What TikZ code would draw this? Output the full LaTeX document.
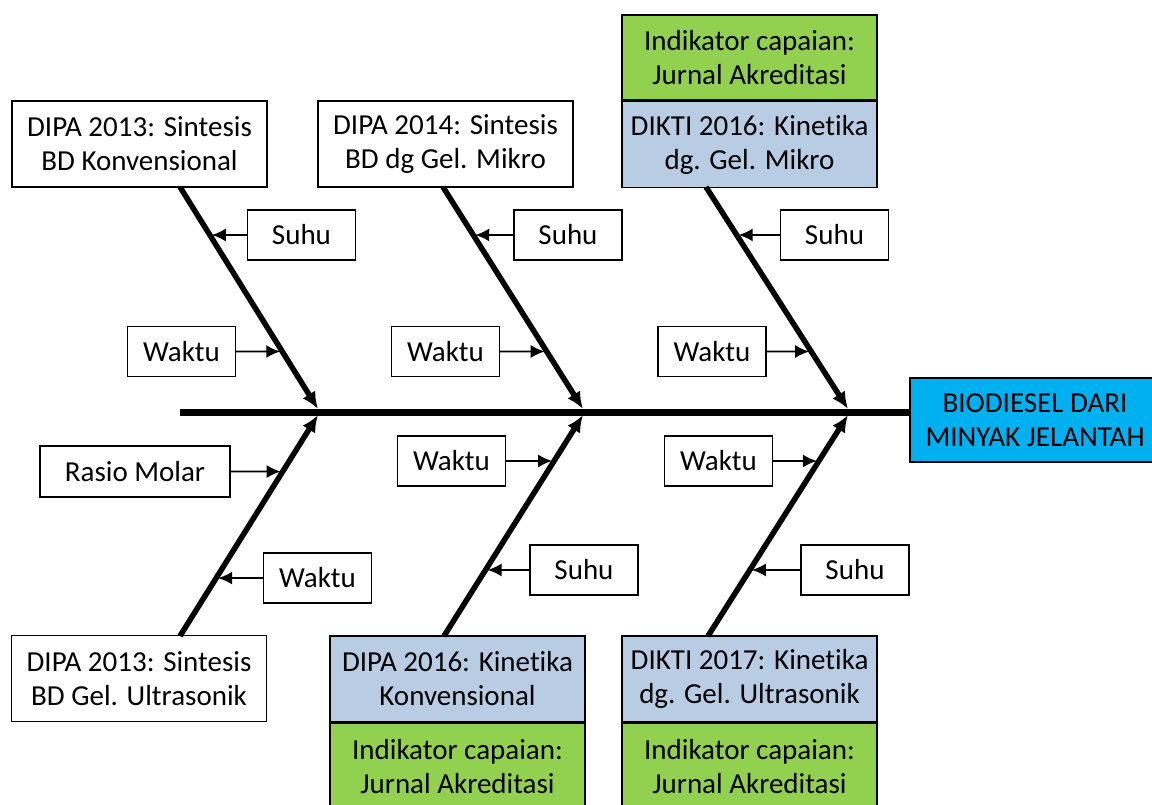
\documentclass[tikz,border=0pt]{standalone}
\usepackage{fontspec}
\setmainfont{Carlito}[RawFeature={-liga;-clig;-calt;-dlig}]
\usetikzlibrary{arrows.meta,calc}
\definecolor{kotak}{HTML}{B8CCE4}
\definecolor{hijau}{HTML}{92D050}
\definecolor{biru}{HTML}{00B0F0}
\tikzset{%
  proj/.style  = {shape=rectangle, draw, line width=1.6pt, align=center,%
                  fill=white, minimum width=255pt, minimum height=86pt,%
                  inner sep=0pt},%
  dikti/.style = {proj, fill=kotak},%
  goal/.style  = {proj, fill=hijau, minimum height=85pt},%
  head/.style  = {proj, fill=biru, minimum width=250pt, minimum height=84pt},%
  cause/.style = {shape=rectangle, draw, line width=1.4pt, fill=white,%
                  minimum width=108pt, minimum height=50pt, inner sep=0pt},%
  bone/.style  = {line width=5.5pt, -{Latex[length=17pt,width=15pt]}},%
  twig/.style  = {line width=1.8pt, shorten >=2pt,%
                  -{Latex[length=14pt,width=13pt]}}%
}

\begin{document}
\begin{tikzpicture}
[x=1pt,y=-1pt,every node/.style={font=\fontsize{29}{34}\selectfont}]
	\useasboundingbox (0,0) rectangle (1152,804);
	% head and spine
	\node[head] (H) at (1035,420) {BIODIESEL DARI\\MINYAK JELANTAH};
	\coordinate (S) at (180,412);
	\draw[line width=7pt] (S) -- (H.west |- S);
	% upper projects
	\node[proj] (P1) at (139.5,144) {DIPA 2013: Sintesis\\BD Konvensional};
	\node[proj] (P2) at (445.5,144) {DIPA 2014: Sintesis\\BD dg Gel. Mikro};
	\node[dikti] (P3) at (749.5,144.5) {DIKTI 2016: Kinetika\\dg. Gel. Mikro};
	\node[goal,anchor=south] (G3) at (P3.north) {Indikator capaian:\\Jurnal Akreditasi};
	% lower projects
	\node[proj] (P4) at (139,678.5) {DIPA 2013: Sintesis\\BD Gel. Ultrasonik};
	\node[dikti] (P5) at (457.5,679) {DIPA 2016: Kinetika\\Konvensional};
	\node[goal,anchor=north] (G5) at (P5.south) {Indikator capaian:\\Jurnal Akreditasi};
	\node[dikti] (P6) at (749.5,679) {DIKTI 2017: Kinetika\\dg. Gel. Ultrasonik};
	\node[goal,anchor=north] (G6) at (P6.south) {Indikator capaian:\\Jurnal Akreditasi};
	% bones
	\coordinate (b1) at (180,187);  \coordinate (j1) at (318,409);
	\coordinate (b2) at (443,187);  \coordinate (j2) at (583,409);
	\coordinate (b3) at (706,187);  \coordinate (j3) at (848,409);
	\coordinate (c1) at (180,636);  \coordinate (k1) at (318,415);
	\coordinate (c2) at (444,636);  \coordinate (k2) at (583,415);
	\coordinate (c3) at (708,636);  \coordinate (k3) at (848,415);
	\foreach \i in {1,2,3} {
		\draw[bone] (b\i) -- (j\i);
		\draw[bone] (c\i) -- (k\i);
	}
	% causes, upper side
	\node[cause] (s1) at (301.5,235) {Suhu};
	\node[cause] (w1) at (181.5,351.5) {Waktu};
	\node[cause] (s2) at (568,235) {Suhu};
	\node[cause] (w2) at (445.5,351.5) {Waktu};
	\node[cause] (s3) at (834.5,235) {Suhu};
	\node[cause] (w3) at (712,351.5) {Waktu};
	% causes, lower side
	\node[cause,minimum width=190pt,minimum height=51pt] (r4) at (135,471.5) {Rasio Molar};
	\node[cause] (w4) at (317.5,578) {Waktu};
	\node[cause] (w5) at (451.5,461) {Waktu};
	\node[cause] (s5) at (584,570) {Suhu};
	\node[cause] (w6) at (718.5,461) {Waktu};
	\node[cause] (s6) at (855,570) {Suhu};
	\foreach \i in {1,2,3} {
		\draw[twig] (s\i.west) -- ($(b\i)!0.216!(j\i)$);
		\draw[twig] (w\i.east) -- ($(b\i)!0.741!(j\i)$);
	}
	\draw[twig] (r4.east) -- ($(c1)!0.744!(k1)$);
	\draw[twig] (w4.west) -- ($(c1)!0.262!(k1)$);
	\draw[twig] (w5.east) -- ($(c2)!0.792!(k2)$);
	\draw[twig] (s5.west) -- ($(c2)!0.299!(k2)$);
	\draw[twig] (w6.east) -- ($(c3)!0.792!(k3)$);
	\draw[twig] (s6.west) -- ($(c3)!0.299!(k3)$);
\end{tikzpicture}
\end{document}
